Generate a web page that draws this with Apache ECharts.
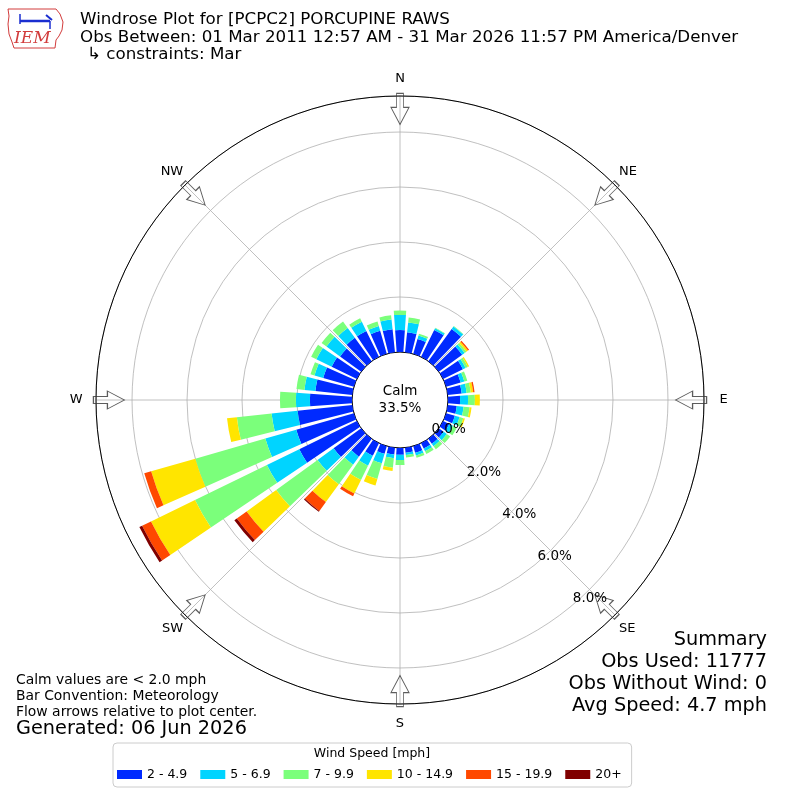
<!DOCTYPE html>
<html>
<head>
<meta charset="utf-8">
<script src="https://cdn.jsdelivr.net/npm/echarts@6/dist/echarts.min.js"></script>
<style>
  html, body { margin: 0; padding: 0; background: #fff; }
  #root { width: 800px; height: 800px; }
</style>
</head>
<body>
<div id="root"></div>
<script>
// direction bins (deg, meteorological, 10 deg wide)
const directions = ['0','10','20','30','40','50','60','70','80','90','100','110','120','130','140','150','160','170',
  '180','190','200','210','220','230','240','250','260','270','280','290','300','310','320','330','340','350'];

const speedBins = ['2 - 4.9', '5 - 6.9', '7 - 9.9', '10 - 14.9', '15 - 19.9', '20+'];
const binColors = ['#002aff', '#00d4ff', '#7bff7b', '#ffe500', '#ff4800', '#800000'];

// frequency (%) per direction, one array per speed bin
const spd2to5 = [0.80,0.73,0.56,1.09,1.45,1.05,0.80,0.55,0.51,0.44,0.33,0.33,0.25,0.22,0.22,0.22,0.25,0.18,
  0.25,0.25,0.29,0.51,0.80,1.24,2.33,2.18,2.00,1.53,1.35,1.16,1.02,0.95,1.05,1.05,0.87,0.84];
const spd5to7 = [0.55,0.36,0.13,0.07,0.11,0.11,0.11,0.14,0.18,0.29,0.25,0.18,0.15,0.14,0.11,0.11,0.10,0.09,
  0.19,0.13,0.36,0.40,0.36,0.72,1.31,1.17,0.95,0.51,0.40,0.33,0.62,0.61,0.44,0.37,0.18,0.36];
const spd7to10 = [0.16,0.18,0.07,0.02,0.02,0.08,0.09,0.11,0.15,0.25,0.22,0.14,0.15,0.15,0.14,0.11,0.09,0.09,
  0.18,0.35,0.59,0.58,0.88,1.86,2.91,2.65,1.27,0.58,0.29,0.15,0.21,0.22,0.29,0.14,0.17,0.15];
const spd10to15 = [0,0,0,0,0,0.07,0.05,0,0.09,0.18,0.07,0.06,0,0,0,0,0,0,
  0,0.12,0.25,0.55,0.80,1.33,1.78,1.67,0.36,0,0,0,0,0,0,0,0,0];
const spd15to20 = [0,0,0,0,0,0.05,0,0,0.05,0,0,0,0,0,0,0,0,0,
  0,0,0,0.11,0.40,0.44,0.36,0.26,0,0,0,0,0,0,0,0,0,0];
const spd20up = [0,0,0,0,0,0,0,0,0,0,0,0,0,0,0,0,0,0,
  0,0,0,0,0.04,0.11,0.11,0,0,0,0,0,0,0,0,0,0,0];
const binData = [spd2to5, spd5to7, spd7to10, spd10to15, spd15to20, spd20up];

const calmPct = 33.5;
const compassNames = ['N', 'NE', 'E', 'SE', 'S', 'SW', 'W', 'NW'];
const compassAngles = [0, 45, 90, 135, 180, 225, 270, 315];
const radialTickStep = 2;   // 0.0%, 2.0%, ... 8.0%
const radialMax = 9.31;

const FONT = 'DejaVu Sans';
const arrowR = 8.84;

function txt(x, y, text, size, align, extra) {
  return {
    type: 'text', x: x, y: y, silent: true, z: 10,
    style: Object.assign({
      text: text, fontSize: size, fontFamily: FONT, fill: '#000',
      align: align || 'left', verticalAlign: 'middle'
    }, extra || {})
  };
}

// compass labels: echarts anchors them by a corner, padding re-centres them
const richKey = { N: 'ns', S: 'ns', E: 'ew', W: 'ew', NE: 'de', SE: 'de', NW: 'dw', SW: 'dw' };
function compassLabel(v) {
  const name = compassNames[Math.round(v / 45) % 8];
  return '{' + richKey[name] + '|' + name + '}';
}
const lblBase = { color: '#000', fontSize: 13, fontFamily: FONT };

const series = speedBins.map((name, i) => ({
  name: name,
  type: 'bar',
  coordinateSystem: 'polar',
  polarIndex: 0,
  stack: 'speed',
  barCategoryGap: '20%',
  silent: true,
  itemStyle: { color: binColors[i] },
  data: binData[i].map(v => (v > 0 ? v : '-'))
}));

series.push({
  type: 'scatter',
  coordinateSystem: 'polar',
  polarIndex: 1,
  silent: true,
  z: 5,
  symbol: 'path://M-3.5,0 L3.5,0 L3.5,14 L9,14 L0,31 L-9,14 L-3.5,14 Z',
  symbolSize: [18, 31],
  itemStyle: { color: 'rgba(255,255,255,0)', borderColor: '#333', borderWidth: 1 },
  data: compassAngles.map(a => ({ value: [arrowR, a], symbolRotate: -a }))
});

const option = {
  animation: false,
  backgroundColor: '#fff',
  polar: [
    { center: [400, 400], radius: [48, 304] },
    { center: [400, 400], radius: [48, 304] },
    { center: [396, 397], radius: [48, 304] }
  ],
  angleAxis: [
    { polarIndex: 0, type: 'category', data: directions, startAngle: 95, clockwise: true, show: false },
    {
      polarIndex: 1, type: 'value', min: 0, max: 360, interval: 45, startAngle: 90, clockwise: true,
      axisLine: { lineStyle: { color: '#000', width: 1 } },
      axisTick: { show: false },
      axisLabel: Object.assign({
        margin: 2,
        formatter: compassLabel,
        rich: {
          ns: Object.assign({ padding: [11, 0, 9, 0] }, lblBase),
          ew: Object.assign({ padding: [0, 11.5, 0, 13.5] }, lblBase),
          de: Object.assign({ padding: [6, 0, 6, 2.7] }, lblBase),
          dw: Object.assign({ padding: [6, 0.4, 6, 0] }, lblBase)
        }
      }, lblBase),
      splitLine: { lineStyle: { color: '#b0b0b0', width: 0.8 } }
    },
    { polarIndex: 2, type: 'value', min: 0, max: 360, startAngle: -50, clockwise: true, show: false }
  ],
  radiusAxis: [
    { polarIndex: 0, min: 0, max: radialMax, show: false },
    {
      polarIndex: 1, min: 0, max: radialMax, interval: radialTickStep,
      axisLine: { show: false }, axisTick: { show: false }, axisLabel: { show: false },
      splitLine: { show: true, lineStyle: { color: '#b0b0b0', width: 0.8 } }
    },
    {
      polarIndex: 2, min: 0, max: radialMax, interval: radialTickStep, z: 10,
      axisLine: { show: false }, axisTick: { show: false }, splitLine: { show: false },
      axisLabel: {
        margin: 6, color: '#000', fontSize: 13.5, fontFamily: FONT,
        formatter: v => (Math.abs(v % radialTickStep) < 1e-6 ? v.toFixed(1) + '%' : '')
      }
    }
  ],
  legend: {
    data: speedBins,
    left: 113, top: 743,
    padding: [25, 10, 6, 4],
    itemGap: 13, itemWidth: 25, itemHeight: 9,
    icon: 'rect',
    borderColor: '#cccccc', borderWidth: 1, borderRadius: 4,
    backgroundColor: '#fff',
    selectedMode: false,
    textStyle: { color: '#000', fontSize: 12.5, fontFamily: FONT }
  },
  graphic: [
    // logo
    {
      type: 'group', x: 6, y: 6, silent: true, children: [
        { type: 'polygon', shape: { points: [[2,3],[50,3],[54,8],[57,16],[56,24],[53,30],[50,34],[49,42],[8,42],[6,36],[3,28],[2,18],[3,10]] },
          style: { fill: 'none', stroke: '#d23c3c', lineWidth: 1 } },
        { type: 'line', shape: { x1: 14, y1: 15, x2: 44, y2: 15 }, style: { stroke: '#1a2ed0', lineWidth: 2.5 } },
        { type: 'line', shape: { x1: 14, y1: 8, x2: 14, y2: 18 }, style: { stroke: '#1a2ed0', lineWidth: 1.5 } },
        { type: 'line', shape: { x1: 40, y1: 9, x2: 46, y2: 14 }, style: { stroke: '#1a2ed0', lineWidth: 2 } },
        { type: 'line', shape: { x1: 44, y1: 15, x2: 44, y2: 23 }, style: { stroke: '#1a2ed0', lineWidth: 1.5 } },
        { type: 'text', x: 8, y: 33, style: { text: 'IEM', fontSize: 17, fontFamily: 'DejaVu Serif', fontStyle: 'italic', fill: '#d23c3c', verticalAlign: 'middle' } }
      ]
    },
    txt(80, 20, 'Windrose Plot for [PCPC2] PORCUPINE RAWS', 16.7),
    txt(80, 38, 'Obs Between: 01 Mar 2011 12:57 AM - 31 Mar 2026 11:57 PM America/Denver', 16.7),
    txt(87, 55, '\u21b3 constraints: Mar', 16.7),
    txt(400, 391, 'Calm', 13.5, 'center'),
    txt(400, 408, calmPct.toFixed(1) + '%', 13.5, 'center'),
    txt(767, 640, 'Summary', 19.3, 'right'),
    txt(767, 662, 'Obs Used: 11777', 19.3, 'right'),
    txt(767, 684, 'Obs Without Wind: 0', 19.3, 'right'),
    txt(767, 706, 'Avg Speed: 4.7 mph', 19.3, 'right'),
    txt(16, 680, 'Calm values are < 2.0 mph', 13.9),
    txt(16, 696, 'Bar Convention: Meteorology', 13.9),
    txt(16, 712, 'Flow arrows relative to plot center.', 13.9),
    txt(16, 729, 'Generated: 06 Jun 2026', 19.3),
    txt(372, 754, 'Wind Speed [mph]', 12.5, 'center', { z: 20 })
  ],
  series: series
};

const chart = echarts.init(document.getElementById('root'), null, { renderer: 'canvas' });
chart.setOption(option);
</script>
</body>
</html>
